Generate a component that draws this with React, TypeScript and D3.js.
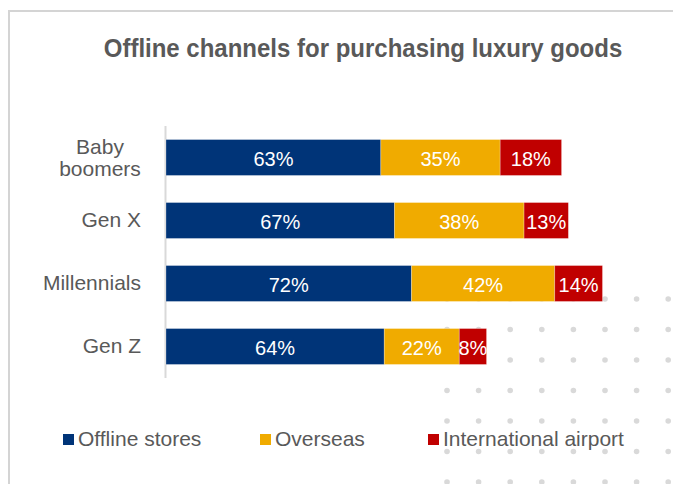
import React from "react";
import * as d3 from "d3";

const categories = ["Baby boomers", "Gen X", "Millennials", "Gen Z"];
const seriesNames = ["Offline stores", "Overseas", "International airport"];
const offlineStores = [63, 67, 72, 64];
const overseas = [35, 38, 42, 22];
const internationalAirport = [18, 13, 14, 8];
const colors = ["#003478", "#F0AB00", "#C00000"];
const title = "Offline channels for purchasing luxury goods";

const W = 673;
const H = 484;
const FONT = "'Liberation Sans', Arial, Helvetica, sans-serif";
const GRAY = "#595959";

export default function App() {
  const x = d3.scaleLinear().domain([0, 100]).range([166, 507]);
  const y = d3
    .scaleBand<string>()
    .domain(categories)
    .range([126, 378])
    .paddingInner(0.43)
    .paddingOuter(0.215);

  const table = categories.map((c, i) => ({
    cat: c,
    s0: offlineStores[i],
    s1: overseas[i],
    s2: internationalAirport[i],
  }));
  const stack = d3.stack<any>().keys(["s0", "s1", "s2"]);
  const layers = stack(table);

  // decorative dot grid
  const dotCols = d3.range(8).map((i) => 447 + i * 31.6);
  const dotRows = d3.range(7).map((j) => 299 + j * 30.5);

  const legendX = [63, 260, 428];

  return (
    <svg
      width={W}
      height={H}
      style={{ position: "absolute", left: 0, top: 0, background: "#fff" }}
      fontFamily={FONT}
    >
      <rect x={0} y={0} width={W} height={H} fill="#fff" />
      {/* frame */}
      <line x1={9} y1={11} x2={W} y2={11} stroke="#d4d4d4" strokeWidth={2} />
      <line x1={9} y1={10} x2={9} y2={H} stroke="#d4d4d4" strokeWidth={2} />

      {/* dots */}
      <g fill="#d9d9d9">
        {dotRows.map((ry, j) =>
          dotCols.map((cx, i) => <circle key={`${i}-${j}`} cx={cx} cy={ry} r={2.8} />)
        )}
      </g>

      {/* title */}
      <text
        transform="translate(363,56.5) scale(1,1.1)"
        textAnchor="middle"
        fontSize={24}
        fontWeight="bold"
        fill={GRAY}
      >
        {title}
      </text>

      {/* axis line */}
      <line x1={165.5} y1={126} x2={165.5} y2={378} stroke="#d9d9d9" strokeWidth={2} />

      {/* bars */}
      {layers.map((layer, li) => (
        <g key={li} fill={colors[li]}>
          {layer.map((d, i) => {
            const yy = y(categories[i]) as number;
            const x0 = x(d[0]);
            const x1 = x(d[1]);
            return (
              <g key={i}>
                <rect
                  x={x0}
                  y={yy}
                  width={x1 - x0}
                  height={y.bandwidth()}
                  stroke="#ffffff"
                  strokeOpacity={0.35}
                  strokeWidth={0.75}
                />
                <text
                  x={(x0 + x1) / 2}
                  y={yy + y.bandwidth() / 2 + 8.5}
                  textAnchor="middle"
                  fontSize={20}
                  fill="#ffffff"
                >
                  {`${d[1] - d[0]}%`}
                </text>
              </g>
            );
          })}
        </g>
      ))}

      {/* category labels */}
      {categories.map((c) => {
        const cy = (y(c) as number) + y.bandwidth() / 2;
        const words = c.split(" ");
        if (c === "Baby boomers") {
          return (
            <text key={c} x={100} textAnchor="middle" fontSize={21} fill={GRAY}>
              <tspan x={100} y={cy - 4}>
                {words[0]}
              </tspan>
              <tspan x={100} y={cy + 18.5}>
                {words[1]}
              </tspan>
            </text>
          );
        }
        return (
          <text key={c} x={141} y={cy + 6.5} textAnchor="end" fontSize={21} fill={GRAY}>
            {c}
          </text>
        );
      })}

      {/* legend */}
      {seriesNames.map((s, i) => (
        <g key={s}>
          <rect x={legendX[i]} y={434} width={11} height={11} fill={colors[i]} />
          <text x={legendX[i] + 15} y={446} fontSize={21} fill={GRAY}>
            {s}
          </text>
        </g>
      ))}
    </svg>
  );
}
